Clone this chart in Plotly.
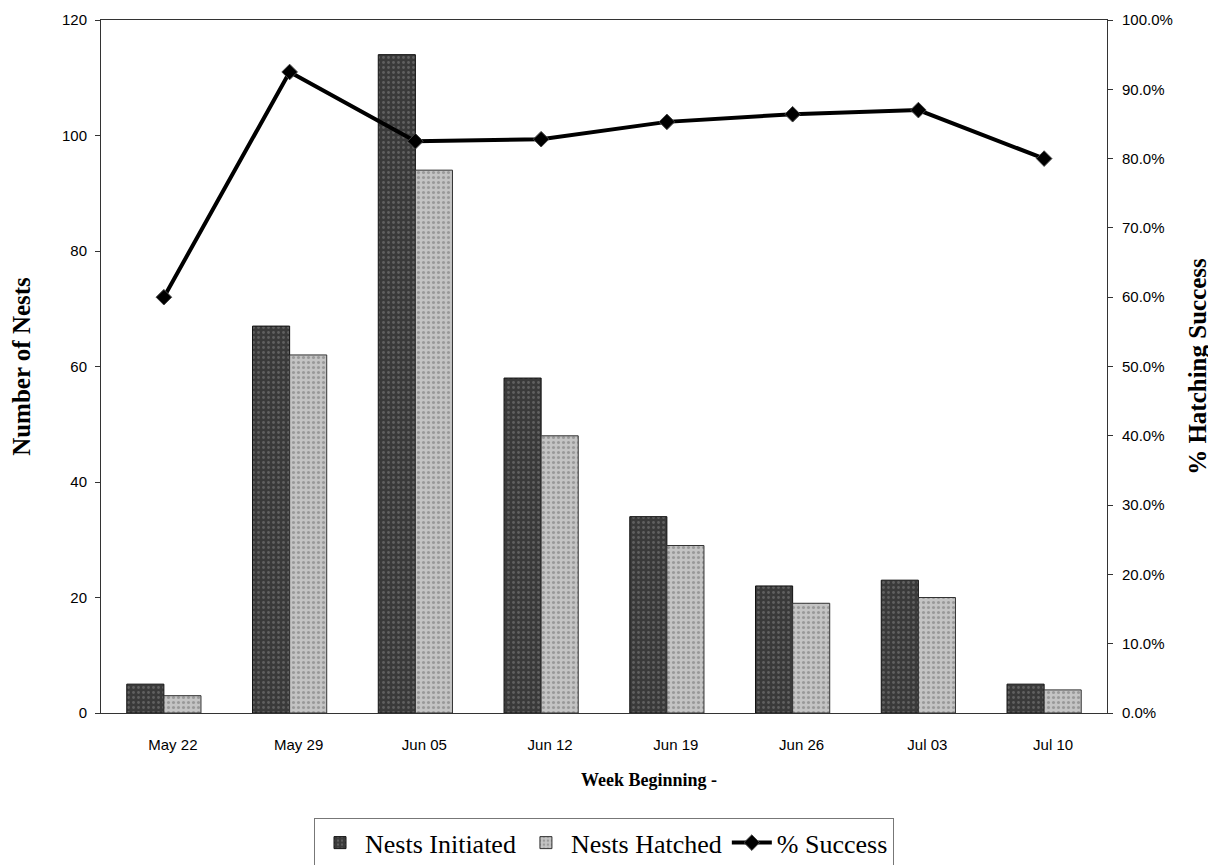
import plotly.graph_objects as go

weeks = ["May 22", "May 29", "Jun 05", "Jun 12", "Jun 19", "Jun 26", "Jul 03", "Jul 10"]
nests_initiated = [5, 67, 114, 58, 34, 22, 23, 5]
nests_hatched = [3, 62, 94, 48, 29, 19, 20, 4]
pct_success = [60.0, 92.5, 82.5, 82.8, 85.3, 86.4, 87.0, 80.0]

left_ticks = [0, 20, 40, 60, 80, 100, 120]
right_ticks = [0, 10, 20, 30, 40, 50, 60, 70, 80, 90, 100]

serif = "Liberation Serif, Times New Roman, serif"
sans = "Liberation Sans, Arial, sans-serif"

fig = go.Figure()
fig.add_trace(go.Bar(
    x=weeks, y=nests_initiated, name="Nests Initiated",
    marker=dict(color="#3a3a3a", line=dict(color="#111111", width=1),
                pattern=dict(shape=".", fgcolor="#858585", bgcolor="#3a3a3a",
                             size=5, solidity=0.25)),
))
fig.add_trace(go.Bar(
    x=weeks, y=nests_hatched, name="Nests Hatched",
    marker=dict(color="#b0b0b0", line=dict(color="#333333", width=1),
                pattern=dict(shape=".", fgcolor="#6e6e6e", bgcolor="#c4c4c4",
                             size=5, solidity=0.3)),
))
fig.add_trace(go.Scatter(
    x=weeks, y=pct_success, name="% Success", yaxis="y2",
    mode="lines+markers",
    line=dict(color="black", width=4),
    marker=dict(symbol="diamond", size=12, color="black",
                line=dict(color="#444444", width=1)),
))

# x title sits a little right of centre in the original, so it is an annotation
fig.add_annotation(
    text="<b>Week Beginning -</b>", xref="paper", yref="paper",
    x=0.545, y=-0.097, xanchor="center", yanchor="middle", showarrow=False,
    font=dict(family=serif, size=18, color="black"),
)

# the page body adds an 8px margin, so the figure is 8px short of the window
fig.update_layout(
    width=1208, height=857,
    margin=dict(l=93, r=109, t=12, b=152),
    plot_bgcolor="white", paper_bgcolor="white",
    barmode="group", bargap=0.41, bargroupgap=0,
    showlegend=True,
    legend=dict(orientation="h", x=0.5, xanchor="center",
                yref="container", y=0.026, yanchor="middle",
                font=dict(family=serif, size=26, color="black"),
                bordercolor="#777777", borderwidth=1, bgcolor="white",
                traceorder="normal", itemwidth=40),
    xaxis=dict(
        automargin=False,
        tickfont=dict(family=sans, size=15, color="black"),
        ticklabelstandoff=18, ticklabelshift=9,
        showline=True, linecolor="#333333", linewidth=1, mirror=True,
        ticks="", showgrid=False,
    ),
    yaxis=dict(
        automargin=False,
        range=[0, 120], tickvals=left_ticks,
        tickfont=dict(family=sans, size=15, color="black"),
        ticklabelstandoff=5,
        title=dict(text="<b>Number of Nests</b>", standoff=28,
                   font=dict(family=serif, size=25, color="black")),
        showline=True, linecolor="#333333", linewidth=1,
        ticks="outside", ticklen=5, tickcolor="#333333",
        showgrid=False, zeroline=False,
    ),
    yaxis2=dict(
        automargin=False,
        range=[0, 100], tickvals=right_ticks,
        ticktext=[f"{v:.1f}%" for v in right_ticks],
        overlaying="y", side="right",
        tickfont=dict(family=sans, size=15, color="black"),
        ticklabelstandoff=6,
        title=dict(text="<b>% Hatching Success</b>", standoff=16,
                   font=dict(family=serif, size=25, color="black")),
        showline=True, linecolor="#333333", linewidth=1,
        ticks="outside", ticklen=5, tickcolor="#333333",
        showgrid=False, zeroline=False,
    ),
)

fig.write_html("out.html")
